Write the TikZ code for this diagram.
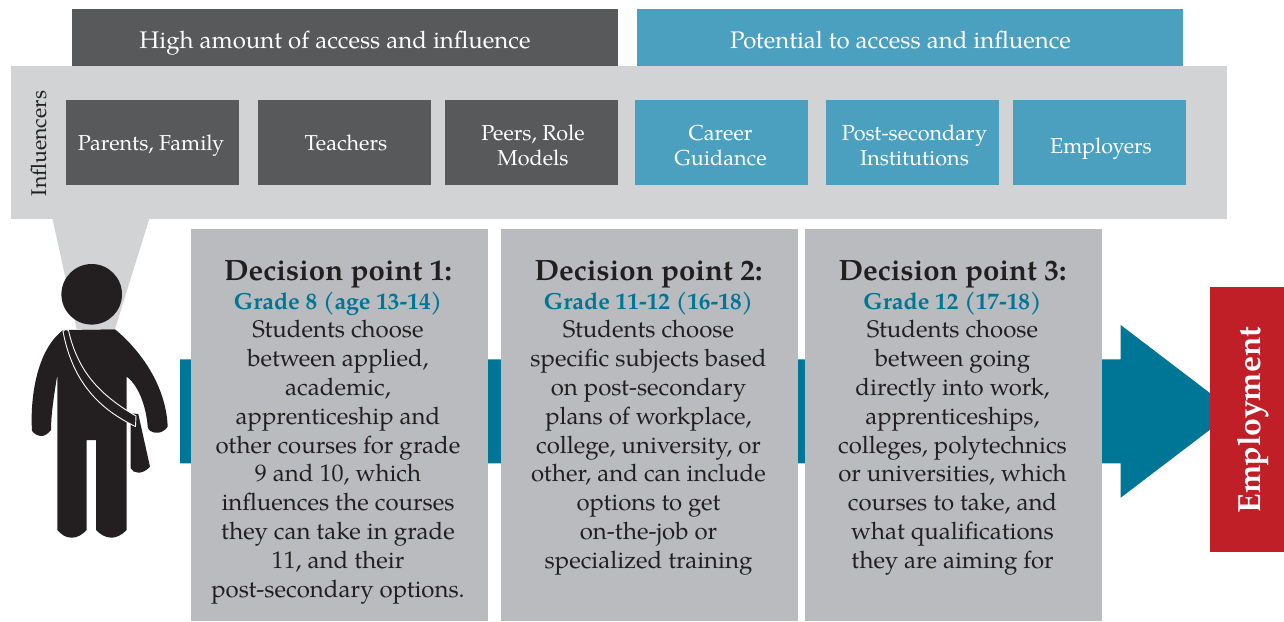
\documentclass[tikz,border=0pt]{standalone}
\usepackage{fontspec}
\setmainfont{TeX Gyre Pagella}
\definecolor{dark}{HTML}{58595B}
\definecolor{blu}{HTML}{4BA0BF}
\definecolor{lgray}{HTML}{D1D3D4}
\definecolor{mgray}{HTML}{B9BBBE}
\definecolor{teal}{HTML}{007697}
\definecolor{redb}{HTML}{C01F28}
\definecolor{ink}{HTML}{231F20}
\newcommand{\dphead}[1]{{\bfseries\fontsize{29.4}{29}\selectfont #1}}
\newcommand{\dpgrade}[1]{{\bfseries\fontsize{23.3}{29}\selectfont\color{teal} #1}}
\tikzset{x=1pt,y=-1pt,
 box/.style={inner sep=0,outer sep=0,anchor=north west,minimum width=173,minimum height=85},
 hdr/.style={inner sep=0,outer sep=0,anchor=north west,minimum width=546,minimum height=57},
 htxt/.style={inner sep=0,text=white,font=\fontsize{24}{28}\selectfont},
 lbl/.style={inner sep=0,align=center,text=white,font=\fontsize{21.6}{24.5}\selectfont},
 card/.style={inner sep=0,anchor=north,align=center,text=ink,font=\fontsize{24}{28.8}\selectfont}}
\begin{document}
\begin{tikzpicture}
\useasboundingbox (0,0) rectangle (1284,621);
\fill[white] (0,0) rectangle (1284,621);
\node[hdr,fill=dark] (h1) at (72,9) {};
\node[hdr,fill=blu] (h2) at (637,9) {};
\node[htxt,xshift=-10pt,yshift=-5.5pt] (th1) at (h1.center) {High amount of access and influence};
\node[htxt,xshift=-9.5pt,yshift=-2.5pt] (th2) at (h2.center) {Potential to access and influence};
% influencer panel and cone
\fill[lgray] (51.7,215) -- (150.5,215) -- (115,329) -- (76.7,329) -- cycle;
\node[box,fill=lgray,minimum width=1216,minimum height=152.5] (inf) at (11,66) {};
\node[rotate=90,text=ink,inner sep=0,font=\fontsize{21.3}{24}\selectfont] (il) at (38.5,143.5) {Influencers};
\node[box,fill=dark] (a) at (66,100) {};
\node[box,fill=dark] (b) at (258,100) {};
\node[box,fill=dark] (c) at (445,100) {};
\node[box,fill=blu] (d) at (635,100) {};
\node[box,fill=blu] (e) at (826,100) {};
\node[box,fill=blu] (f) at (1013,100) {};
\node[lbl,yshift=-3pt,xshift=-1.5pt] (ta) at (a.center) {Parents, Family};
\node[lbl,yshift=0pt,xshift=1.5pt] (tb) at (b.center) {Teachers};
\node[lbl,yshift=-3pt,xshift=1.5pt] (tc) at (c.center) {Peers, Role\\Models};
\node[lbl,yshift=-3pt,xshift=-1pt] (td) at (d.center) {Career\\Guidance};
\node[lbl,yshift=-3pt,xshift=2pt] (te) at (e.center) {Post-secondary\\Institutions};
\node[lbl,yshift=-6pt,xshift=1.5pt] (tf) at (f.center) {Employers};
% main arrow
\fill[teal] (180,359.3) -- (1120.7,359.3) -- (1120.7,325) -- (1234,411.4) -- (1120.7,497.7) -- (1120.7,463.4) -- (180,463.4) -- cycle;
% cards
\fill[mgray] (191,229) rectangle (488,621);
\fill[mgray] (501,229) rectangle (798,621);
\fill[mgray] (805,229) rectangle (1102,621);
\node[card] (p1) at (338,260) {\dphead{Decision point 1:}\\\dpgrade{Grade 8 (age 13-14)}\\Students choose\\between applied,\\academic,\\apprenticeship and\\other courses for grade\\9 and 10, which\\influences the courses\\they can take in grade\\11, and their\\post-secondary options.};
\node[card] (p2) at (648.5,260) {\dphead{Decision point 2:}\\\dpgrade{Grade 11-12 (16-18)}\\Students choose\\specific subjects based\\on post-secondary\\plans of workplace,\\college, university, or\\other, and can include\\options to get\\on-the-job or\\specialized training};
\node[card] (p3) at (952.5,260) {\dphead{Decision point 3:}\\\dpgrade{Grade 12 (17-18)}\\Students choose\\between going\\directly into work,\\apprenticeships,\\colleges, polytechnics\\or universities, which\\courses to take, and\\what qualifications\\they are aiming for};
% employment
\node[box,fill=redb,minimum width=74,minimum height=265] (emp) at (1210,287) {};
\node[rotate=90,text=white,inner sep=0,font=\bfseries\fontsize{32}{36}\selectfont] (empt) at (1253,420) {Employment};
% person
\fill[ink] (91.7,294.3) circle (30.3);
\fill[ink] (63.3,330) -- (115,329.3)
  .. controls (140,350) and (166,385) .. (167.7,426.7)
  .. controls (165,431) and (160,433) .. (156.7,432.7)
  .. controls (152,433) and (148,430) .. (147.7,426.7)
  .. controls (146,405) and (138,385) .. (126.7,376.7)
  -- (126.7,530) .. controls (122,535) and (116,537.7) .. (111.7,537.7)
  .. controls (105,537.7) and (100,534) .. (96,530)
  -- (96,440) -- (86.7,440) -- (86.7,530)
  .. controls (82,535) and (77,537.7) .. (71.7,537.7)
  .. controls (65,537.7) and (61,534) .. (57.3,530)
  -- (57.3,375) .. controls (54,395) and (51,415) .. (51,430)
  .. controls (48,434) and (44,436) .. (41.7,436)
  .. controls (38,436) and (34,434) .. (32,430.7)
  .. controls (30,400) and (36,350) .. (63.3,330) -- cycle;
\fill[ink] (130.7,413.3) -- (138.3,414) -- (150,466.7)
  .. controls (146,471) and (142,472.7) .. (138.3,472.7)
  .. controls (135,472.7) and (132,471) .. (130.7,468.3) -- cycle;
\draw[white,line width=0.9pt,fill=ink,line join=round] (63,331.5) .. controls (65,329) and (67,329) .. (68.5,330.5)
  .. controls (78,372) and (100,395) .. (136,416)
  -- (135.5,426.5)
  .. controls (95,407) and (72,378) .. (63,331.5) -- cycle;
\end{tikzpicture}
\end{document}
